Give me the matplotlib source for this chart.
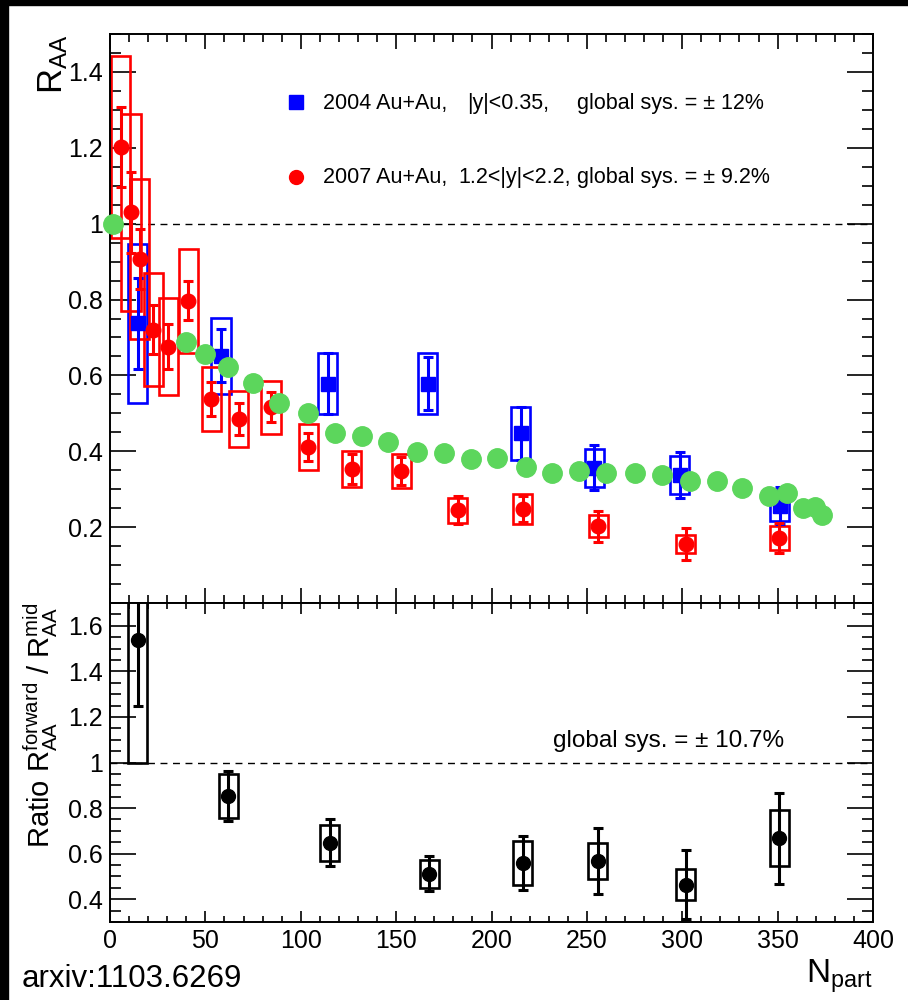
import matplotlib
matplotlib.use('Agg')
import matplotlib.pyplot as plt
from matplotlib.patches import Rectangle
from matplotlib.ticker import MultipleLocator, FuncFormatter

plt.rcParams['font.family'] = ['Liberation Sans', 'DejaVu Sans']
plt.rcParams['mathtext.fontset'] = 'custom'
plt.rcParams['mathtext.rm'] = 'Liberation Sans'
plt.rcParams['mathtext.it'] = 'Liberation Sans:italic'

# 2004 Au+Au, mid rapidity (blue)
mid_npart = [14.5, 58.2, 114.1, 166.6, 215.3, 253.9, 298.8, 351.2]
mid_raa = [0.737, 0.652, 0.578, 0.578, 0.448, 0.357, 0.338, 0.257]
mid_stat = [0.12, 0.07, 0.08, 0.07, 0.07, 0.06, 0.06, 0.05]
mid_sys = [0.21, 0.10, 0.08, 0.08, 0.07, 0.05, 0.05, 0.04]

# 2007 Au+Au, forward rapidity (red)
fwd_npart = [5.6, 11.0, 15.7, 22.7, 30.6, 41.0, 53.0, 67.6, 84.4, 104.0,
             126.7, 152.6, 182.3, 216.4, 256.0, 301.8, 350.9]
fwd_raa = [1.202, 1.030, 0.907, 0.721, 0.676, 0.797, 0.538, 0.485, 0.516, 0.411,
           0.353, 0.347, 0.245, 0.248, 0.202, 0.156, 0.171]
fwd_stat = [0.105, 0.107, 0.08, 0.065, 0.06, 0.052, 0.044, 0.042, 0.04, 0.037,
            0.04, 0.037, 0.037, 0.035, 0.041, 0.043, 0.04]
fwd_sys = [0.24, 0.26, 0.21, 0.15, 0.127, 0.137, 0.085, 0.075, 0.07, 0.06,
           0.047, 0.045, 0.033, 0.039, 0.029, 0.024, 0.032]

# green points
grn_npart = [1.4, 39.8, 49.8, 62.0, 74.8, 88.8, 104.0, 117.8, 132.0, 145.9,
             161.1, 175.1, 189.1, 203.0, 218.1, 231.9, 246.0, 260.0, 275.2, 289.2,
             304.1, 318.1, 331.2, 345.5, 355.1, 363.1, 369.6, 373.1]
grn_raa = [1.0, 0.687, 0.657, 0.622, 0.579, 0.527, 0.501, 0.449, 0.440, 0.424,
           0.399, 0.395, 0.379, 0.381, 0.359, 0.344, 0.347, 0.342, 0.342, 0.337,
           0.322, 0.322, 0.303, 0.282, 0.289, 0.250, 0.252, 0.233]

# ratio forward / mid
rat_npart = [14.5, 61.9, 115.3, 167.4, 216.3, 255.7, 301.8, 350.9]
rat_val = [1.537, 0.853, 0.647, 0.511, 0.559, 0.567, 0.464, 0.667]
rat_stat = [0.29, 0.11, 0.103, 0.077, 0.12, 0.144, 0.15, 0.2]
rat_sys = [0.537, 0.097, 0.08, 0.063, 0.095, 0.08, 0.069, 0.123]

BOX_HW = 5.0


def sys_boxes(ax, xs, ys, errs, color, z=2):
    for x, y, e in zip(xs, ys, errs):
        ax.add_patch(Rectangle((x - BOX_HW, y - e), 2 * BOX_HW, 2 * e, fill=False,
                               edgecolor=color, linewidth=1.9, zorder=z))


def fmt(v, pos):
    if abs(v) < 1e-9:
        return ''
    return '%g' % round(v, 2)


fig = plt.figure(figsize=(9.08, 10), dpi=100)
ax1 = fig.add_axes([110 / 908, 0.397, 763 / 908, 0.569])
ax2 = fig.add_axes([110 / 908, 0.078, 763 / 908, 0.319])

# top panel
sys_boxes(ax1, mid_npart, mid_raa, mid_sys, 'blue')
sys_boxes(ax1, fwd_npart, fwd_raa, fwd_sys, 'red')
ax1.errorbar(mid_npart, mid_raa, yerr=mid_stat, fmt='s', color='blue', ms=10,
             elinewidth=2.2, capsize=3.5, capthick=2.2, zorder=3)
ax1.errorbar(fwd_npart, fwd_raa, yerr=fwd_stat, fmt='o', color='red', ms=10.5,
             elinewidth=2.2, capsize=3.5, capthick=2.2, zorder=3)
ax1.plot(grn_npart, grn_raa, 'o', color='#5cd65c', ms=14, zorder=4, clip_on=False)
ax1.axhline(1.0, color='black', lw=1, ls=(0, (5, 4)), zorder=1)

ax1.set_xlim(0, 400)
ax1.set_ylim(0, 1.5)
ax1.tick_params(labelbottom=False)

# legend-like text
ax1.plot([0.244], [0.880], 's', color='blue', ms=10, transform=ax1.transAxes)
ax1.plot([0.244], [0.749], 'o', color='red', ms=10, transform=ax1.transAxes)
for txt, px in [('2004 Au+Au,', 323), ('|y|<0.35,', 467), ('global sys. = \u00b1 12%', 577)]:
    ax1.text((px - 110) / 763, (603 - 109) / 569, txt, transform=ax1.transAxes,
             fontsize=15.5, ha='left', va='baseline')
for txt, px in [('2007 Au+Au,', 323), ('1.2<|y|<2.2,', 458), ('global sys. = \u00b1 9.2%', 577)]:
    ax1.text((px - 110) / 763, (603 - 183) / 569, txt, transform=ax1.transAxes,
             fontsize=15.5, ha='left', va='baseline')

ax1.set_ylabel(r'R$_{\mathrm{AA}}$', fontsize=25, loc='top')
ax1.yaxis.set_label_coords(-0.052, 1.0)

# bottom panel
sys_boxes(ax2, rat_npart, rat_val, rat_sys, 'black')
ax2.errorbar(rat_npart, rat_val, yerr=rat_stat, fmt='o', color='black', ms=10,
             elinewidth=2.2, capsize=3.5, capthick=2.2, zorder=3)
ax2.axhline(1.0, color='black', lw=1, ls=(0, (5, 4)), zorder=1)
ax2.set_xlim(0, 400)
ax2.set_ylim(0.3, 1.7)
ax2.text(232, 1.067, 'global sys. = \u00b1 10.7%', fontsize=17.5, ha='left', va='baseline')
ax2.set_ylabel(r'Ratio R$_{\mathrm{AA}}^{\mathrm{forward}}$ / R$_{\mathrm{AA}}^{\mathrm{mid}}$',
               fontsize=21, loc='top')
ax2.yaxis.set_label_coords(-0.066, 1.0)

for ax in (ax1, ax2):
    ax.xaxis.set_major_locator(MultipleLocator(50))
    ax.xaxis.set_minor_locator(MultipleLocator(10))
    ax.yaxis.set_major_locator(MultipleLocator(0.2))
    ax.yaxis.set_minor_locator(MultipleLocator(0.05))
    ax.yaxis.set_major_formatter(FuncFormatter(fmt))
    ax.xaxis.set_major_formatter(FuncFormatter(lambda v, p: '%g' % v))
    ax.tick_params(which='both', direction='in', top=True, right=True,
                   labelsize=18, width=1.2, pad=5)
    ax.tick_params(axis='y', which='major', length=19)
    ax.tick_params(axis='y', which='minor', length=8)
    for s in ax.spines.values():
        s.set_linewidth(1.4)

ax1.tick_params(axis='x', which='major', length=11)
ax1.tick_params(axis='x', which='minor', length=6)
ax2.tick_params(axis='x', which='major', length=8)
ax2.tick_params(axis='x', which='minor', length=4.3)

fig.text(22 / 908, 1 - 987 / 1000, 'arxiv:1103.6269', fontsize=22.5, ha='left', va='baseline')
fig.text(873 / 908, 1 - 983 / 1000, r'N$_{\mathrm{part}}$', fontsize=24, ha='right', va='baseline')

# black frame strips
fig.add_artist(Rectangle((0, 1 - 5 / 1000), 1, 5 / 1000, transform=fig.transFigure,
                         color='black', zorder=10))
fig.add_artist(Rectangle((0, 0), 8 / 908, 1, transform=fig.transFigure,
                         color='black', zorder=10))

fig.savefig('out.png', dpi=100)
